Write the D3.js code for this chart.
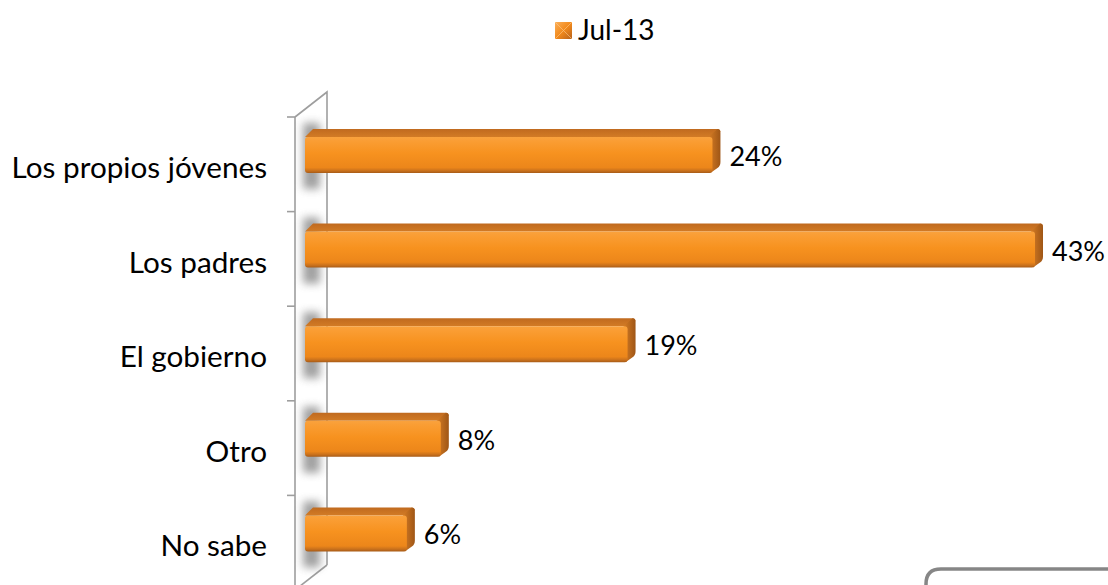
<!DOCTYPE html>
<html>
<head>
<meta charset="utf-8">
<script src="https://cdn.jsdelivr.net/npm/d3@7"></script>
<style>
  html, body { margin: 0; padding: 0; background: #fff; }
  svg { display: block; }
</style>
</head>
<body>
<svg id="chart" width="1108" height="585"></svg>
<script>
const categories = ["Los propios jóvenes", "Los padres", "El gobierno", "Otro", "No sabe"];
const values = [24, 43, 19, 8, 6];
const valueLabels = ["24%", "43%", "19%", "8%", "6%"];
const seriesName = "Jul-13";

const svg = d3.select("#chart");
const FONT = "Lato, 'Open Sans', sans-serif";

const x = d3.scaleLinear().domain([0, 43]).range([305, 1035]);
const y = d3.scaleBand().domain(categories).range([117, 590]).paddingInner(0).paddingOuter(0);

const defs = svg.append("defs");
const gFront = defs.append("linearGradient").attr("id", "gFront").attr("x1", 0).attr("y1", 0).attr("x2", 0).attr("y2", 1);
[[0, "#f9a23e"], [0.12, "#fa9d33"], [0.45, "#f7921f"], [0.85, "#ec861a"], [0.94, "#c8701c"], [1, "#a75b17"]]
  .forEach(([o, c]) => gFront.append("stop").attr("offset", o).attr("stop-color", c));
const gTop = defs.append("linearGradient").attr("id", "gTop").attr("x1", 0).attr("y1", 0).attr("x2", 0).attr("y2", 1);
[[0, "#c06a1f"], [1, "#d27b25"]].forEach(([o, c]) => gTop.append("stop").attr("offset", o).attr("stop-color", c));
const gSide = defs.append("linearGradient").attr("id", "gSide").attr("x1", 0).attr("y1", 0).attr("x2", 1).attr("y2", 0);
[[0, "#d57c24"], [1, "#9f5616"]].forEach(([o, c]) => gSide.append("stop").attr("offset", o).attr("stop-color", c));
const blur = defs.append("filter").attr("id", "blur").attr("x", "-50%").attr("y", "-50%").attr("width", "200%").attr("height", "200%");
blur.append("feGaussianBlur").attr("stdDeviation", 4);
const gLeg = defs.append("linearGradient").attr("id", "gLeg").attr("x1", 0).attr("y1", 0).attr("x2", 1).attr("y2", 1);
[[0, "#fbb05a"], [0.5, "#f28a1c"], [1, "#b8621a"]].forEach(([o, c]) => gLeg.append("stop").attr("offset", o).attr("stop-color", c));

// Wall
const [r0, r1] = y.range();
const dx = 32, dy = 25;
const wallColor = "#9e9e9e";
svg.append("path")
  .attr("d", `M295,${r0} L${295 + dx},${r0 - dy} L${295 + dx},${r1 - dy}`)
  .attr("fill", "none").attr("stroke", wallColor).attr("stroke-width", 1.6);
svg.append("path")
  .attr("d", `M295,${r0} L295,${r1 + 5}`)
  .attr("fill", "none").attr("stroke", wallColor).attr("stroke-width", 1.6);
svg.append("path")
  .attr("d", `M${295 + dx},${r1 - dy} L295,${r1}`)
  .attr("fill", "none").attr("stroke", wallColor).attr("stroke-width", 1.6);

// Ticks
const tickYs = categories.map(c => y(c)).concat([r1]);
svg.selectAll("line.tick").data(tickYs).enter().append("line")
  .attr("x1", 287).attr("x2", 295).attr("y1", d => d).attr("y2", d => d)
  .attr("stroke", wallColor).attr("stroke-width", 1.6);

// Shadows on wall
svg.selectAll("rect.shadow").data(categories).enter().append("rect")
  .attr("x", 303).attr("width", 17)
  .attr("y", c => y(c) + 6).attr("height", 66)
  .attr("fill", "#6e6e6e").attr("opacity", 0.65).attr("filter", "url(#blur)");

// Bars
const D = 8; // depth offset
const bars = svg.selectAll("g.bar").data(categories.map((c, i) => ({ c, v: values[i], label: valueLabels[i] })))
  .enter().append("g");

bars.append("path")
  .attr("d", d => {
    const y0 = y(d.c) + 20, xv = x(d.v);
    return `M${x(0)},${y0} L${x(0) + D},${y0 - D} L${xv + D - 3},${y0 - D} Q${xv + D},${y0 - D} ${xv + D},${y0 - D + 3} L${xv},${y0} Z`;
  })
  .attr("fill", "url(#gTop)");

bars.append("path")
  .attr("d", d => {
    const y0 = y(d.c) + 20, y1 = y(d.c) + 56, xv = x(d.v);
    return `M${xv - 4},${y0} L${xv + D - 3},${y0 - D} Q${xv + D},${y0 - D} ${xv + D},${y0 - D + 4} L${xv + D},${y1 - D - 3} Q${xv + D},${y1 - D + 1} ${xv + D - 3},${y1 - D + 3} L${xv - 2},${y1} Z`;
  })
  .attr("fill", "url(#gSide)");

bars.append("rect")
  .attr("x", x(0))
  .attr("y", d => y(d.c) + 20)
  .attr("width", d => x(d.v) - x(0))
  .attr("height", 36)
  .attr("rx", 3)
  .attr("fill", "url(#gFront)");

bars.append("text")
  .attr("x", d => x(d.v) + 17)
  .attr("y", d => y(d.c) + 49)
  .attr("font-family", FONT).attr("font-size", 27).attr("fill", "#000")
  .text(d => d.label);

// Category labels
svg.selectAll("text.cat").data(categories).enter().append("text")
  .attr("x", 267)
  .attr("y", c => y(c) + 61)
  .attr("text-anchor", "end")
  .attr("font-family", FONT).attr("font-size", 29.7).attr("fill", "#000")
  .text(c => c);

// Legend
const leg = svg.append("g");
leg.append("rect").attr("x", 555).attr("y", 22).attr("width", 17).attr("height", 17).attr("fill", "url(#gLeg)");
leg.append("path").attr("d", "M555,22 L572,39 M572,22 L555,39").attr("stroke", "#fcd09a").attr("stroke-width", 0.8).attr("opacity", 0.7);
leg.append("text").attr("x", 578).attr("y", 40)
  .attr("font-family", FONT).attr("font-size", 28).attr("fill", "#000").text(seriesName);

// Text box outline at bottom-right
svg.append("path")
  .attr("d", "M926,590 L926,584 Q926,569 941,569 L1115,569")
  .attr("fill", "none").attr("stroke", "#868686").attr("stroke-width", 3.5);
</script>
</body>
</html>
